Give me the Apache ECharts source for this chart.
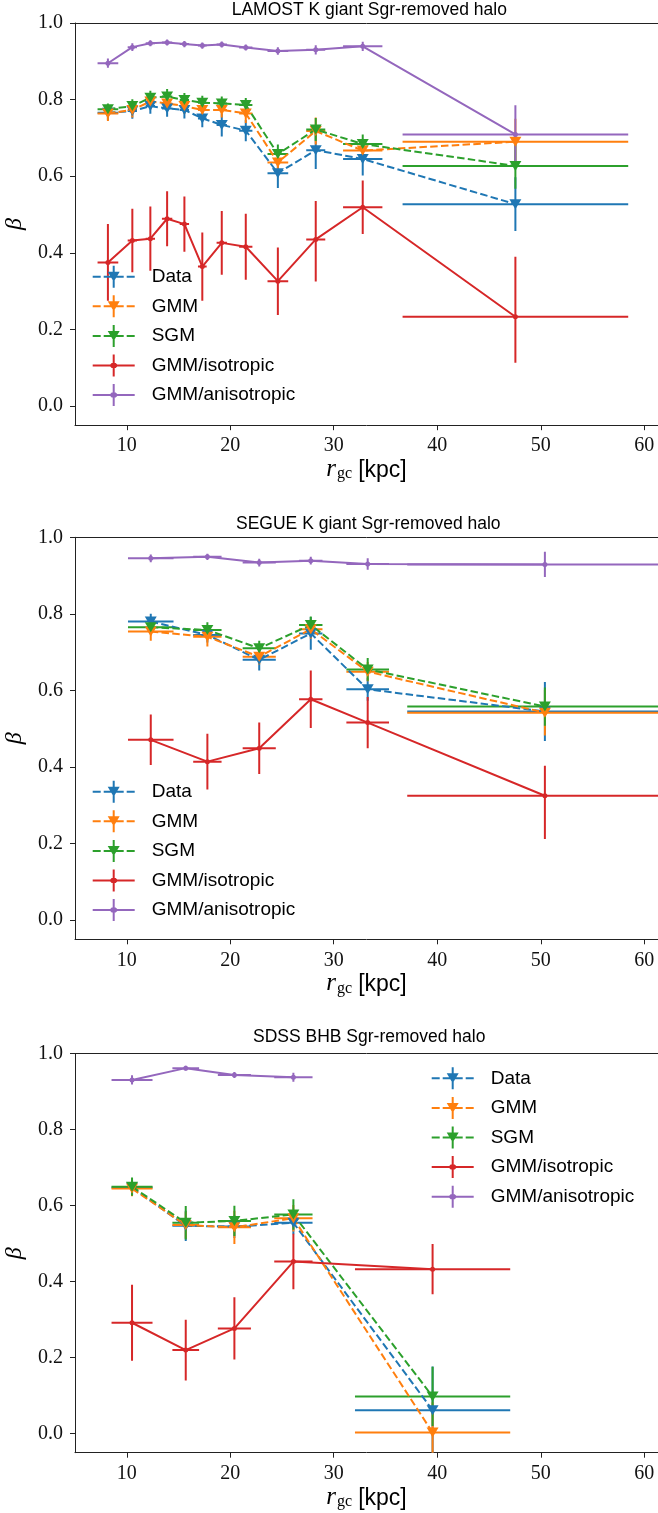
<!DOCTYPE html>
<html><head><meta charset="utf-8">
<script src="https://cdn.jsdelivr.net/npm/echarts@6/dist/echarts.min.js"></script>
<style>html,body{margin:0;padding:0;background:#fff}#c{width:658px;height:1513px}</style>
</head><body><div id="c"></div>
<script>
// ---------------- data ----------------
const seriesNames = ['Data', 'GMM', 'SGM', 'GMM/isotropic', 'GMM/anisotropic'];
const panelTitles = ['LAMOST K giant Sgr-removed halo', 'SEGUE K giant Sgr-removed halo', 'SDSS BHB Sgr-removed halo'];
const xTicks = [10, 20, 30, 40, 50, 60];
const yTicks = [0.0, 0.2, 0.4, 0.6, 0.8, 1.0];

// Panel 1: LAMOST K giant
const lamost_r      = [8.18, 10.54, 12.28, 13.9, 15.57, 17.3, 19.18, 21.5, 24.6, 28.26, 32.8, 47.55];
const lamost_rerr   = [1.0, 0.45, 0.45, 0.5, 0.45, 0.42, 0.5, 0.64, 1.0, 0.92, 1.9, 10.9];
const lamost_data   = [0.766, 0.770, 0.783, 0.777, 0.773, 0.751, 0.734, 0.719, 0.608, 0.668, 0.645, 0.527];
const lamost_data_e = [0.02, 0.02, 0.02, 0.022, 0.022, 0.023, 0.03, 0.028, 0.039, 0.049, 0.043, 0.07];
const lamost_gmm    = [0.764, 0.773, 0.795, 0.790, 0.783, 0.773, 0.773, 0.764, 0.636, 0.718, 0.667, 0.690];
const lamost_gmm_e  = [0.02, 0.02, 0.02, 0.02, 0.02, 0.02, 0.02, 0.025, 0.03, 0.035, 0.03, 0.06];
const lamost_sgm    = [0.775, 0.783, 0.805, 0.808, 0.799, 0.792, 0.790, 0.786, 0.658, 0.722, 0.684, 0.627];
const lamost_sgm_e  = [0.015, 0.018, 0.018, 0.02, 0.018, 0.018, 0.018, 0.018, 0.025, 0.03, 0.025, 0.06];
const lamost_iso    = [0.375, 0.432, 0.437, 0.489, 0.475, 0.364, 0.426, 0.416, 0.326, 0.435, 0.519, 0.233];
const lamost_iso_lo = [0.1, 0.083, 0.084, 0.072, 0.072, 0.089, 0.083, 0.086, 0.088, 0.11, 0.07, 0.12];
const lamost_iso_hi = [0.1, 0.083, 0.084, 0.072, 0.072, 0.089, 0.083, 0.086, 0.088, 0.1, 0.07, 0.157];
const lamost_ani    = [0.895, 0.937, 0.947, 0.949, 0.945, 0.941, 0.944, 0.936, 0.927, 0.930, 0.939, 0.709];
const lamost_ani_e  = [0.012, 0.01, 0.008, 0.008, 0.008, 0.008, 0.008, 0.008, 0.01, 0.012, 0.012, 0.076];

// Panel 2: SEGUE K giant
const segue_r      = [12.32, 17.79, 22.8, 27.78, 33.28, 50.4];
const segue_rerr   = [2.2, 1.37, 1.6, 1.13, 2.06, 13.3];
const segue_data   = [0.780, 0.745, 0.680, 0.749, 0.603, 0.545];
const segue_data_e = [0.02, 0.02, 0.028, 0.043, 0.03, 0.077];
const segue_gmm    = [0.754, 0.740, 0.688, 0.760, 0.649, 0.542];
const segue_gmm_e  = [0.024, 0.025, 0.02, 0.025, 0.025, 0.06];
const segue_sgm    = [0.765, 0.758, 0.710, 0.771, 0.655, 0.558];
const segue_sgm_e  = [0.015, 0.02, 0.02, 0.022, 0.03, 0.05];
const segue_iso    = [0.471, 0.414, 0.449, 0.577, 0.516, 0.325];
const segue_iso_lo = [0.066, 0.073, 0.067, 0.075, 0.067, 0.113];
const segue_iso_hi = [0.066, 0.073, 0.067, 0.075, 0.067, 0.078];
const segue_ani    = [0.945, 0.949, 0.934, 0.939, 0.930, 0.929];
const segue_ani_e  = [0.01, 0.008, 0.01, 0.01, 0.015, 0.033];

// Panel 3: SDSS BHB
const bhb_r      = [10.51, 15.7, 20.4, 26.1, 39.55];
const bhb_rerr   = [1.98, 1.29, 1.6, 1.85, 7.5];
const bhb_data   = [0.648, 0.547, 0.545, 0.555, 0.062];
const bhb_data_e = [0.02, 0.04, 0.03, 0.03, 0.115];
const bhb_gmm    = [0.645, 0.549, 0.543, 0.567, 0.003];
const bhb_gmm_e  = [0.02, 0.035, 0.044, 0.035, 0.08];
const bhb_sgm    = [0.650, 0.555, 0.560, 0.577, 0.098];
const bhb_sgm_e  = [0.024, 0.044, 0.04, 0.04, 0.078];
const bhb_iso    = [0.292, 0.220, 0.277, 0.453, 0.433];
const bhb_iso_e  = [0.1, 0.08, 0.082, 0.073, 0.066];
const bhb_ani    = [0.931, 0.962, 0.944, 0.938];
const bhb_ani_e  = [0.012, 0.006, 0.008, 0.012];

// ---------------- styling / layout ----------------
const COLORS = ['#1f77b4', '#ff7f0e', '#2ca02c', '#d62728', '#9467bd'];
const DASHED = [true, true, true, false, false];
const SERIF = 'Liberation Serif';
const SANS = 'Liberation Sans';
const AX = '#222';
const X_MIN = 5, X_MAX = 5 + 583 / 10.35;

const grids = [
  {left: 75, top: 23, width: 583, height: 402.2},
  {left: 75, top: 537.3, width: 583, height: 402},
  {left: 75, top: 1053.7, width: 583, height: 399}
];
const legendPos = [{left: 92.7, top: 265.7}, {left: 92.7, top: 780.7}, {left: 431.7, top: 1067.3}];
const titleTops = [1, 515, 1028];
const titleLefts = [231.7, 236, 253];

const DASH_ICON = 'path://M0,10h8v2h-8z M11,10h6v2h-6z M25,10h6v2h-6z M34,10h8v2h-8z M20,0h2v22h-2z M15,10h12v2h-12z M15,6h12l-6,10z';
const SOLID_ICON = 'path://M0,10h42v2h-42z M20,0h2v22h-2z M19,8.5h4l1.5,1.5v2l-1.5,1.5h-4l-1.5,-1.5v-2z';

const panels = [
  {r: lamost_r, rerr: lamost_rerr, sets: [
    [lamost_data, lamost_data_e, lamost_data_e],
    [lamost_gmm, lamost_gmm_e, lamost_gmm_e],
    [lamost_sgm, lamost_sgm_e, lamost_sgm_e],
    [lamost_iso, lamost_iso_lo, lamost_iso_hi],
    [lamost_ani, lamost_ani_e, lamost_ani_e]]},
  {r: segue_r, rerr: segue_rerr, sets: [
    [segue_data, segue_data_e, segue_data_e],
    [segue_gmm, segue_gmm_e, segue_gmm_e],
    [segue_sgm, segue_sgm_e, segue_sgm_e],
    [segue_iso, segue_iso_lo, segue_iso_hi],
    [segue_ani, segue_ani_e, segue_ani_e]]},
  {r: bhb_r, rerr: bhb_rerr, sets: [
    [bhb_data, bhb_data_e, bhb_data_e],
    [bhb_gmm, bhb_gmm_e, bhb_gmm_e],
    [bhb_sgm, bhb_sgm_e, bhb_sgm_e],
    [bhb_iso, bhb_iso_e, bhb_iso_e],
    [bhb_ani, bhb_ani_e, bhb_ani_e]]}
];

function renderErr(params, api) {
  const x = api.value(0), y = api.value(1);
  const h0 = api.coord([api.value(2), y]), h1 = api.coord([api.value(3), y]);
  const v0 = api.coord([x, api.value(4)]), v1 = api.coord([x, api.value(5)]);
  const style = {stroke: api.visual('color'), lineWidth: 2};
  return {type: 'group', children: [
    {type: 'line', shape: {x1: h0[0], y1: h0[1], x2: h1[0], y2: h1[1]}, style},
    {type: 'line', shape: {x1: v0[0], y1: v0[1], x2: v1[0], y2: v1[1]}, style}
  ]};
}

const series = [];
panels.forEach((p, pi) => {
  p.sets.forEach((s, k) => {
    const [ys, lo, hi] = s;
    const errData = ys.map((y, j) => [p.r[j], y, p.r[j] - p.rerr[j], p.r[j] + p.rerr[j], y - lo[j], y + hi[j]]);
    series.push({
      type: 'custom', name: seriesNames[k] + ' errors', xAxisIndex: pi, yAxisIndex: pi,
      data: errData, renderItem: renderErr, clip: true, silent: true,
      encode: {x: 0, y: 1}, itemStyle: {color: COLORS[k]}, z: 2
    });
    const tri = k < 3;
    series.push({
      type: 'line', name: seriesNames[k], xAxisIndex: pi, yAxisIndex: pi,
      data: ys.map((y, j) => [p.r[j], y]),
      symbol: tri ? 'triangle' : 'circle', symbolRotate: tri ? 180 : 0,
      symbolSize: tri ? [12, 10] : 5, showSymbol: true, clip: true, silent: true,
      itemStyle: {color: COLORS[k], borderWidth: 0},
      lineStyle: {color: COLORS[k], width: 2, type: DASHED[k] ? [7.5, 3.3] : 'solid'},
      z: 2
    });
  });
});

const xAxes = grids.map((g, i) => ({
  type: 'value', gridIndex: i, min: X_MIN, max: X_MAX, position: 'bottom',
  axisLine: {show: true, onZero: false, lineStyle: {color: AX, width: 1}},
  axisTick: {show: true, inside: false, length: 5, customValues: xTicks, lineStyle: {color: AX, width: 1}},
  axisLabel: {customValues: xTicks, margin: 11, fontFamily: SERIF, fontSize: 20, color: '#111'},
  splitLine: {show: false},
  name: '{i|r}{s|gc} {k|[kpc]}', nameLocation: 'middle', nameGap: 31, nameMoveOverlap: false,
  nameTextStyle: {fontSize: 22, lineHeight: 26, color: '#000', rich: {
    i: {fontFamily: SERIF, fontStyle: 'italic', fontSize: 25, lineHeight: 26, verticalAlign: 'bottom', color: '#000'},
    s: {fontFamily: SERIF, fontSize: 16, lineHeight: 12, padding: [14, 0, 0, 1], verticalAlign: 'bottom', color: '#000'},
    k: {fontFamily: SANS, fontSize: 23, lineHeight: 26, verticalAlign: 'bottom', color: '#000'}
  }}
}));
// top spines
grids.forEach((g, i) => xAxes.push({
  type: 'value', gridIndex: i, min: X_MIN, max: X_MAX, position: 'top',
  axisLine: {show: true, onZero: false, lineStyle: {color: AX, width: 1}},
  axisTick: {show: false}, axisLabel: {show: false}, splitLine: {show: false}
}));
const yAxes = grids.map((g, i) => ({
  type: 'value', gridIndex: i, min: -0.05, max: 1.0,
  axisLine: {show: true, onZero: false, lineStyle: {color: AX, width: 1}},
  axisTick: {show: true, inside: false, length: 5, customValues: yTicks, lineStyle: {color: AX, width: 1}},
  axisLabel: {customValues: yTicks, margin: 12, fontFamily: SERIF, fontSize: 20, color: '#111',
    formatter: v => Number(v).toFixed(1)},
  splitLine: {show: false},
  name: 'β', nameLocation: 'middle', nameGap: 26, nameRotate: 90,
  nameTextStyle: {fontFamily: SERIF, fontStyle: 'italic', fontSize: 24, color: '#000'}
}));

const option = {
  animation: false,
  backgroundColor: '#fff',
  title: panelTitles.map((t, i) => ({
    text: t, left: titleLefts[i], top: titleTops[i], padding: 0,
    textStyle: {fontFamily: SANS, fontSize: 17.5, fontWeight: 'normal', color: '#000'}
  })),
  grid: grids.map(g => Object.assign({show: false, containLabel: false, outerBoundsMode: 'none'}, g)),
  xAxis: xAxes,
  yAxis: yAxes,
  legend: legendPos.map(pos => ({
    left: pos.left, top: pos.top, orient: 'vertical', padding: 0,
    itemWidth: 42, itemHeight: 22, itemGap: 7.6, selectedMode: false,
    itemStyle: {borderWidth: 0},
    textStyle: {fontFamily: SANS, fontSize: 19, color: '#000', padding: [0, 0, 0, 12]},
    data: seriesNames.map((n, k) => ({name: n, icon: DASHED[k] ? DASH_ICON : SOLID_ICON}))
  })),
  series: series
};

const chart = echarts.init(document.getElementById('c'), null, {renderer: 'canvas'});
chart.setOption(option);
</script></body></html>
